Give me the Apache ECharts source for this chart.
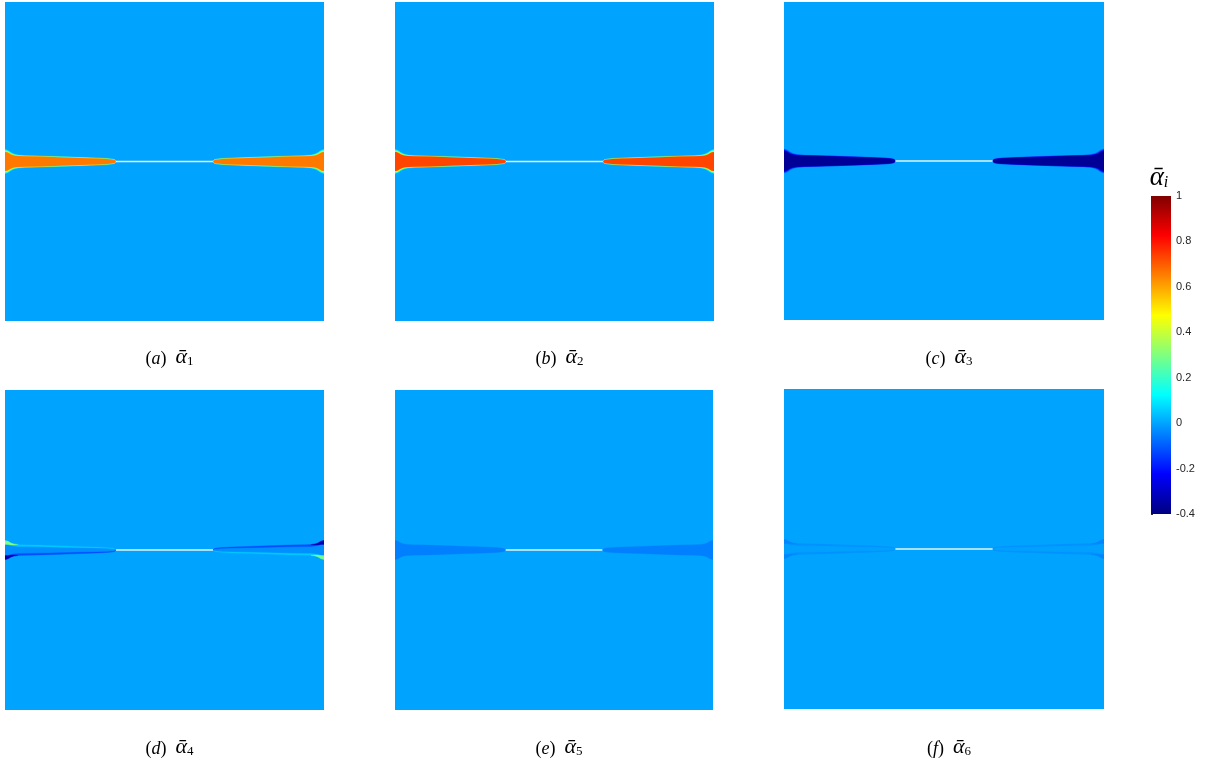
<!DOCTYPE html>
<html><head><meta charset="utf-8">
<script src="https://cdn.jsdelivr.net/npm/echarts@6/dist/echarts.min.js"></script>
<style>html,body{margin:0;padding:0;background:#fff}#c{width:1208px;height:765px}</style>
</head><body><div id="c"></div>
<script>
// ================= DATA =================
const panelLetters = ['a', 'b', 'c', 'd', 'e', 'f'];
const panelSubscripts = ['1', '2', '3', '4', '5', '6'];
// field value away from the crack band
const backgroundValue = [0, 0, 0, 0, 0, 0];
// value inside the process band along the crack faces
const bandValue = [0.66, 0.73, -0.37, -0.03, -0.05, -0.006];
// transition halo values around the band (outer, inner)
const haloOuterValue = [0.15, 0.15, -0.12, null, null, null];
const haloInnerValue = [0.42, 0.45, -0.26, null, null, null];
// edge strips along the band faces: [left band, right band]
const upperEdgeValue = [null, null, null, [0.05, -0.12], null, [-0.025, -0.025]];
const lowerEdgeValue = [null, null, null, [-0.12, 0.05], null, [-0.025, -0.025]];
// strong spots at the free edges: [left band, right band]
const upperFlareValue = [null, null, null, [0.3, -0.33], null, [-0.04, -0.04]];
const lowerFlareValue = [null, null, null, [-0.33, 0.28], null, [-0.04, -0.04]];

// band profile from the free edge (x = 0) to the crack tip, y = half thickness
const bandX        = [0, 0.0063, 0.0125, 0.0188, 0.0282, 0.0408, 0.0627, 0.1097, 0.1724, 0.2351, 0.2884, 0.3197, 0.3354, 0.3433, 0.348];
const bandHalf     = [0.0298, 0.0288, 0.0257, 0.0219, 0.0188, 0.0172, 0.0163, 0.0154, 0.0135, 0.0113, 0.0094, 0.0078, 0.0063, 0.0044, 0.0];
const haloOuterHalf= [0.0376, 0.0360, 0.0329, 0.0282, 0.0235, 0.0204, 0.0185, 0.0172, 0.0154, 0.0132, 0.0113, 0.0097, 0.0082, 0.0063, 0.0019];
const haloInnerHalf= [0.0339, 0.0323, 0.0292, 0.0245, 0.0210, 0.0188, 0.0174, 0.0163, 0.0144, 0.0122, 0.0103, 0.0088, 0.0072, 0.0053, 0.0009];
const edgeInnerHalf= [0.0194, 0.0187, 0.0167, 0.0142, 0.0122, 0.0112, 0.0106, 0.0100, 0.0088, 0.0073, 0.0061, 0.0051, 0.0041, 0.0029, 0.0];
// flare spots near the free edge
const flareX     = [0, 0.0094, 0.0188, 0.0282, 0.0408];
const flareOuter = [0.0298, 0.0275, 0.0219, 0.0188, 0.0172];
const flareInner = [0.0175, 0.0170, 0.0160, 0.0155, 0.0168];
// crack (traction-free faces) between the two bands
const crackX = [0.348, 0.652];
const crackY = [0, 0];
// colour bar
const cbMin = -0.4, cbMax = 1, cbInterval = 0.2;

// ================= LAYOUT =================
const panelBoxes = [
  [5, 2, 319, 319], [395, 2, 319, 319], [784, 2, 320, 318],
  [5, 390, 319, 320], [395, 390, 318, 320], [784, 389, 320, 320]
];
const captionY = [356, 356, 356, 746, 746, 746];
const cbBox = [1151, 196, 20, 318];
const jet = ['#000080', '#0000ff', '#0080ff', '#00ffff', '#80ff80', '#ffff00', '#ff8000', '#ff0000', '#800000'];

function fullBand(xs, hs, mirror) {
  const pts = [];
  for (let k = 0; k < xs.length; k++) pts.push([mirror(xs[k]), hs[k]]);
  for (let k = xs.length - 1; k >= 0; k--) pts.push([mirror(xs[k]), -hs[k]]);
  return pts;
}
function strip(xs, outer, inner, sign, mirror) {
  const pts = [];
  for (let k = 0; k < xs.length; k++) pts.push([mirror(xs[k]), sign * outer[k]]);
  for (let k = xs.length - 1; k >= 0; k--) pts.push([mirror(xs[k]), sign * inner[k]]);
  return pts;
}

const grids = [], xAxes = [], yAxes = [], series = [], graphics = [], customIdx = [];
for (let p = 0; p < 6; p++) {
  const b = panelBoxes[p];
  grids.push({ left: b[0], top: b[1], width: b[2], height: b[3], show: false });
  xAxes.push({ type: 'value', gridIndex: p, min: 0, max: 1, show: false });
  yAxes.push({ type: 'value', gridIndex: p, min: -0.5, max: 0.5, show: false });

  const polys = [], vals = [];
  polys.push([[0, -0.5], [1, -0.5], [1, 0.5], [0, 0.5]]); vals.push(backgroundValue[p]);
  [0, 1].forEach(si => {
    const mirror = si === 0 ? (x => x) : (x => 1 - x);
    if (haloOuterValue[p] !== null) {
      polys.push(fullBand(bandX, haloOuterHalf, mirror)); vals.push(haloOuterValue[p]);
      polys.push(fullBand(bandX, haloInnerHalf, mirror)); vals.push(haloInnerValue[p]);
    }
    polys.push(fullBand(bandX, bandHalf, mirror)); vals.push(bandValue[p]);
    if (upperEdgeValue[p]) { polys.push(strip(bandX, bandHalf, edgeInnerHalf, 1, mirror)); vals.push(upperEdgeValue[p][si]); }
    if (lowerEdgeValue[p]) { polys.push(strip(bandX, bandHalf, edgeInnerHalf, -1, mirror)); vals.push(lowerEdgeValue[p][si]); }
    if (upperFlareValue[p]) { polys.push(strip(flareX, flareOuter, flareInner, 1, mirror)); vals.push(upperFlareValue[p][si]); }
    if (lowerFlareValue[p]) { polys.push(strip(flareX, flareOuter, flareInner, -1, mirror)); vals.push(lowerFlareValue[p][si]); }
  });

  customIdx.push(series.length);
  series.push({
    type: 'custom', xAxisIndex: p, yAxisIndex: p, clip: true, silent: true, animation: false, progressive: 0,
    data: vals.map(v => ({ value: [v, 0] })),
    renderItem: function (params, api) {
      const pts = polys[params.dataIndex].map(q => api.coord(q));
      const c = api.visual('color');
      return { type: 'polygon', shape: { points: pts }, style: { fill: c, stroke: c, lineWidth: 0.3 } };
    }
  });
  series.push({
    type: 'line', xAxisIndex: p, yAxisIndex: p, silent: true, animation: false, symbol: 'none',
    data: crackX.map((x, i) => [x, crackY[i]]),
    lineStyle: { color: 'rgba(236,248,255,0.95)', width: 1.3 }, z: 3
  });

  graphics.push({
    type: 'text', x: b[0] + b[2] / 2 + 5, y: captionY[p],
    style: {
      text: '{p|(}{i|' + panelLetters[p] + '}{p|)  }{al|\u03b1\u0304}{s|' + panelSubscripts[p] + '}',
      align: 'center', verticalAlign: 'middle',
      rich: {
        p: { fontFamily: 'Liberation Serif', fontSize: 18, color: '#000', verticalAlign: 'bottom', lineHeight: 24 },
        i: { fontFamily: 'Liberation Serif', fontStyle: 'italic', fontSize: 18, color: '#000', verticalAlign: 'bottom', lineHeight: 24 },
        al: { fontFamily: 'Liberation Serif', fontStyle: 'italic', fontSize: 22, color: '#000', verticalAlign: 'bottom', lineHeight: 24 },
        s: { fontFamily: 'Liberation Serif', fontSize: 13, color: '#000', verticalAlign: 'bottom', lineHeight: 20 }
      }
    }
  });
}

// colour bar axis grid
grids.push({ left: cbBox[0], top: cbBox[1], width: cbBox[2], height: cbBox[3], show: false });
xAxes.push({ type: 'value', gridIndex: 6, show: false, min: 0, max: 1 });
yAxes.push({
  type: 'value', gridIndex: 6, position: 'right', min: cbMin, max: cbMax, interval: cbInterval,
  axisLine: { show: false }, splitLine: { show: false },
  axisTick: { show: true, length: 2, lineStyle: { color: '#333' } },
  axisLabel: { fontFamily: 'Liberation Sans', fontSize: 11, color: '#262626', margin: 5 }
});

// colour bar (jet colormap)
graphics.push({
  type: 'rect', silent: true, z: 5,
  shape: { x: cbBox[0], y: cbBox[1], width: cbBox[2], height: cbBox[3] },
  style: {
    fill: new echarts.graphic.LinearGradient(0, 1, 0, 0,
      jet.map((c, i) => ({ offset: i / (jet.length - 1), color: c })))
  }
});

graphics.push({
  type: 'text', x: 1159, y: 177,
  style: {
    text: '{a|\u03b1\u0304}{i|i}', align: 'center', verticalAlign: 'middle',
    rich: {
      a: { fontFamily: 'Liberation Serif', fontStyle: 'italic', fontSize: 27, color: '#000', verticalAlign: 'bottom', lineHeight: 28 },
      i: { fontFamily: 'Liberation Serif', fontStyle: 'italic', fontSize: 16, color: '#000', verticalAlign: 'bottom', lineHeight: 22 }
    }
  }
});

const option = {
  backgroundColor: '#ffffff',
  animation: false,
  grid: grids, xAxis: xAxes, yAxis: yAxes,
  visualMap: {
    type: 'continuous', show: false, min: cbMin, max: cbMax, dimension: 0, seriesIndex: customIdx,
    inRange: { color: jet }
  },
  series: series,
  graphic: graphics
};
const chart = echarts.init(document.getElementById('c'));
chart.setOption(option);
</script></body></html>
